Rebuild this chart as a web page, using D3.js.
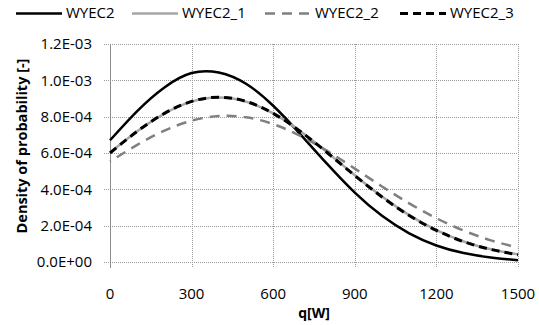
<!DOCTYPE html>
<head>
  <meta charset="utf-8">
  <script src="https://d3js.org/d3.v7.min.js"></script>
  <style>
    body { margin: 0; background: #fff; }
    text { font-family: "Open Sans", sans-serif; fill: #000; }
    .grid line { stroke: #9a9a9a; stroke-width: 1; stroke-dasharray: 1,1; }
  </style>
</head>
<body>
  <svg width="539" height="325"></svg>
  <script>

  // q values [W]
  var q = [0, 100, 200, 300, 400, 500, 600, 700, 800, 900, 1000, 1100, 1200, 1300, 1400, 1500];

  // density of probability
  var wyec2   = [6.70e-4, 8.31e-4, 9.61e-4, 1.040e-3, 1.043e-3, 9.81e-4, 8.60e-4, 7.03e-4, 5.37e-4, 3.82e-4, 2.54e-4, 1.58e-4, 9.1e-5, 4.9e-5, 2.5e-5, 1.0e-5];
  var wyec2_1 = [6.02e-4, 7.20e-4, 8.17e-4, 8.83e-4, 9.05e-4, 8.83e-4, 8.18e-4, 7.20e-4, 6.02e-4, 4.78e-4, 3.60e-4, 2.58e-4, 1.75e-4, 1.13e-4, 7.0e-5, 4.2e-5];
  var wyec2_2 = [5.53e-4, 6.45e-4, 7.23e-4, 7.78e-4, 8.03e-4, 7.97e-4, 7.59e-4, 6.94e-4, 6.10e-4, 5.14e-4, 4.16e-4, 3.23e-4, 2.41e-4, 1.73e-4, 1.19e-4, 7.9e-5];
  var wyec2_3 = [6.00e-4, 7.19e-4, 8.18e-4, 8.84e-4, 9.07e-4, 8.84e-4, 8.18e-4, 7.19e-4, 6.00e-4, 4.76e-4, 3.58e-4, 2.56e-4, 1.74e-4, 1.12e-4, 6.9e-5, 4.0e-5];

  var names = ["WYEC2", "WYEC2_1", "WYEC2_2", "WYEC2_3"];
  var xTicks = [0, 300, 600, 900, 1200, 1500];
  var yTicks = [0, 2e-4, 4e-4, 6e-4, 8e-4, 1.0e-3, 1.2e-3];

  var styles = [
    {stroke: "#000000", width: 2.5, dash: null},
    {stroke: "#a6a6a6", width: 2.5, dash: null},
    {stroke: "#808080", width: 2.5, dash: "10,7"},
    {stroke: "#000000", width: 3, dash: "8,5"}
  ];

  var svg = d3.select("svg");
  var margin = {top: 44, right: 21, bottom: 63, left: 110};
  var width = +svg.attr("width") - margin.left - margin.right;
  var height = +svg.attr("height") - margin.top - margin.bottom;

  var x = d3.scaleLinear().domain([0, 1500]).range([0, width]);
  var y = d3.scaleLinear().domain([0, 1.2e-3]).range([height, 0]);

  var g = svg.append("g")
    .attr("transform", "translate(" + margin.left + "," + margin.top + ")");

  // grid lines (extend a bit outside as tick marks)
  var grid = g.append("g").attr("class", "grid");
  grid.selectAll(".h").data(yTicks).enter().append("line")
    .attr("x1", -6).attr("x2", width)
    .attr("y1", function(d) { return Math.round(y(d)) + 0.5; })
    .attr("y2", function(d) { return Math.round(y(d)) + 0.5; });
  grid.selectAll(".v").data(xTicks.slice(1)).enter().append("line")
    .attr("y1", 0).attr("y2", height + 6)
    .attr("x1", function(d) { return Math.round(x(d)) + 0.5; })
    .attr("x2", function(d) { return Math.round(x(d)) + 0.5; });

  // left axis line
  g.append("line")
    .attr("x1", 0.5).attr("x2", 0.5).attr("y1", 0).attr("y2", height + 6)
    .attr("stroke", "#8c8c8c").attr("stroke-width", 1);

  // tick labels
  g.selectAll(".ylab").data(yTicks).enter().append("text")
    .attr("x", -18).attr("y", function(d) { return y(d); })
    .attr("dy", "0.35em").attr("text-anchor", "end")
    .style("font-size", "15px")
    .text(function(d) { return d === 0 ? "0.0E+00" : d3.format(".1e")(d).replace("e-", "E-0"); });

  g.selectAll(".xlab").data(xTicks).enter().append("text")
    .attr("x", function(d) { return x(d); }).attr("y", height + 37)
    .attr("text-anchor", "middle")
    .style("font-size", "15px")
    .text(function(d) { return d; });

  // axis titles
  g.append("text")
    .attr("x", width / 2).attr("y", height + 56)
    .attr("text-anchor", "middle")
    .style("font-size", "14px").style("font-weight", "bold")
    .text("q[W]");

  svg.append("text")
    .attr("transform", "translate(27," + (margin.top + height / 2 - 7) + ") rotate(-90)")
    .attr("text-anchor", "middle")
    .style("font-size", "14.5px").style("font-weight", "bold")
    .text("Density of probability [-]");

  // lines
  var series = [wyec2, wyec2_1, wyec2_2, wyec2_3];
  var line = d3.line()
    .curve(d3.curveNatural)
    .x(function(d, i) { return x(q[i]); })
    .y(function(d) { return y(d); });

  series.forEach(function(s, i) {
    g.append("path")
      .datum(s)
      .attr("fill", "none")
      .attr("stroke", styles[i].stroke)
      .attr("stroke-width", styles[i].width)
      .attr("stroke-dasharray", styles[i].dash)
      .attr("stroke-dashoffset", i === 2 ? 9 : 0)
      .attr("d", line);
  });

  // legend
  var legX = [16, 132, 265, 400];
  var leg = svg.append("g").attr("transform", "translate(0,13)");
  names.forEach(function(n, i) {
    leg.append("line")
      .attr("x1", legX[i]).attr("x2", legX[i] + 46)
      .attr("y1", 0.5).attr("y2", 0.5)
      .attr("stroke", styles[i].stroke)
      .attr("stroke-width", styles[i].width)
      .attr("stroke-dasharray", styles[i].dash);
    leg.append("text")
      .attr("x", legX[i] + 50).attr("y", 0).attr("dy", "0.35em")
      .style("font-size", "15px")
      .text(n);
  });

  </script>
</body>
